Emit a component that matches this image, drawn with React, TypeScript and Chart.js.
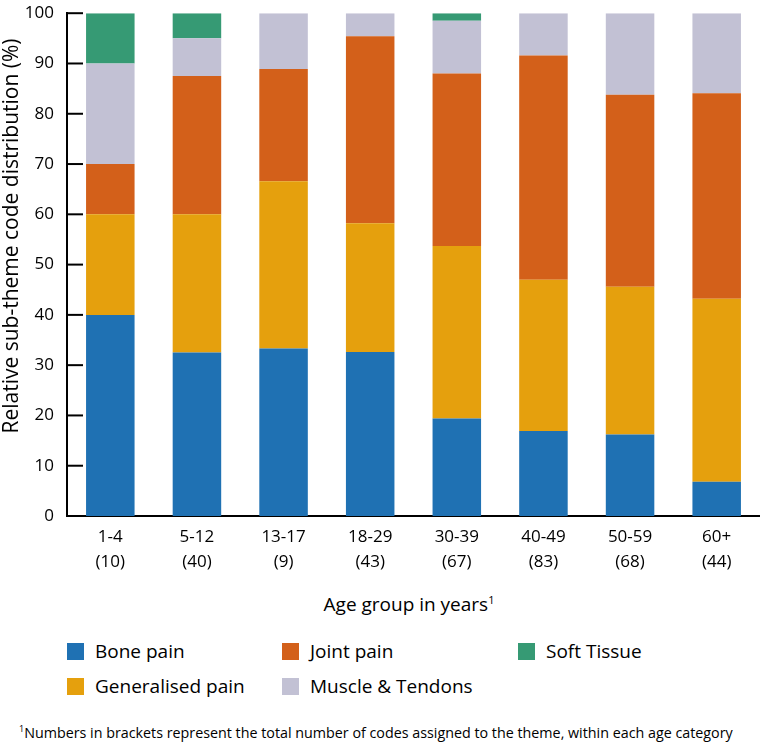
import React, { useEffect, useRef } from "react";
import { Chart, registerables } from "chart.js";
Chart.register(...registerables);

const ageGroups = ["1-4", "5-12", "13-17", "18-29", "30-39", "40-49", "50-59", "60+"];
const codeCounts = ["(10)", "(40)", "(9)", "(43)", "(67)", "(83)", "(68)", "(44)"];
const bonePain = [40, 32.5, 33.3, 32.6, 19.4, 16.9, 16.2, 6.8];
const generalisedPain = [20, 27.5, 33.3, 25.6, 34.3, 30.1, 29.4, 36.4];
const jointPain = [10, 27.5, 22.3, 37.2, 34.3, 44.6, 38.2, 40.9];
const muscleTendons = [20, 7.5, 11.1, 4.6, 10.5, 8.4, 16.2, 15.9];
const softTissue = [10, 5, 0, 0, 1.5, 0, 0, 0];
const yTicks = [0, 10, 20, 30, 40, 50, 60, 70, 80, 90, 100];
const yTitle = "Relative sub-theme code distribution (%)";

const COLORS = {
  bone: "#1f71b3",
  gen: "#e5a00d",
  joint: "#d3601a",
  muscle: "#c2c1d4",
  soft: "#369a74",
};

const FONT = "'Open Sans', sans-serif";
const SHIFT = 10;

export default function App() {
  const ref = useRef<HTMLCanvasElement>(null);
  useEffect(() => {
    document.body.style.margin = "0";
    const inwardTicks = {
      id: "inwardTicks",
      afterDatasetsDraw(chart: any) {
        const y = chart.scales.y;
        const ctx = chart.ctx;
        ctx.save();
        ctx.strokeStyle = "#000";
        ctx.lineWidth = 2;
        yTicks.forEach((v) => {
          const py = y.getPixelForValue(v);
          ctx.beginPath();
          ctx.moveTo(y.right - 1, py);
          ctx.lineTo(y.right + 16, py);
          ctx.stroke();
        });
        ctx.restore();
        // y-axis title
        ctx.save();
        ctx.translate(12, 236 + SHIFT);
        ctx.rotate(-Math.PI / 2);
        ctx.fillStyle = "#000";
        ctx.font = "21px " + FONT;
        ctx.textAlign = "center";
        ctx.textBaseline = "middle";
        ctx.fillText(yTitle, 0, 0);
        ctx.restore();
      },
    };
    const labels = ageGroups.map((g, i) => [g, codeCounts[i]]);
    const mk = (label: string, data: number[], color: string) => ({
      label,
      data,
      backgroundColor: color,
      borderWidth: 0,
      barPercentage: 0.56,
      categoryPercentage: 1,
    });
    const chart = new Chart(ref.current!, {
      type: "bar",
      data: {
        labels,
        datasets: [
          mk("Bone pain", bonePain, COLORS.bone),
          mk("Generalised pain", generalisedPain, COLORS.gen),
          mk("Joint pain", jointPain, COLORS.joint),
          mk("Muscle & Tendons", muscleTendons, COLORS.muscle),
          mk("Soft Tissue", softTissue, COLORS.soft),
        ],
      },
      options: {
        animation: false,
        responsive: false,
        maintainAspectRatio: false,
        layout: { padding: { top: 2, right: 0, left: 0, bottom: 0 } },
        plugins: { legend: { display: false }, tooltip: { enabled: false } },
        scales: {
          x: {
            stacked: true,
            grid: { display: false, drawTicks: false },
            border: { display: true, color: "#000", width: 2 },
            ticks: {
              color: "#000",
              font: { family: FONT, size: 17, lineHeight: 1.5 },
              padding: 8,
              maxRotation: 0,
              autoSkip: false,
            },
            afterFit: (s: any) => {
              s.height = 74;
            },
          },
          y: {
            stacked: true,
            min: 0,
            max: 100,
            grid: { display: false, drawTicks: false },
            border: { display: true, color: "#000", width: 2 },
            ticks: {
              stepSize: 10,
              color: "#000",
              font: { family: FONT, size: 17 },
              padding: 13,
            },
            afterFit: (s: any) => {
              s.width = 67;
            },
          },
        },
      },
      plugins: [inwardTicks],
    });
    return () => chart.destroy();
  }, []);

  const legendItem = (left: number, top: number, color: string, text: string) => (
    <div style={{ position: "absolute", left, top, height: 22, display: "flex", alignItems: "center" }}>
      <div style={{ width: 17, height: 17, background: color, marginRight: 11 }} />
      <span style={{ fontSize: 19, color: "#000", whiteSpace: "nowrap" }}>{text}</span>
    </div>
  );

  return (
    <div style={{ position: "absolute", left: 0, top: 0, width: 760, height: 743, fontFamily: FONT, background: "#fff", overflow: "hidden" }}>
      <canvas ref={ref} width={760} height={590 + SHIFT} style={{ position: "absolute", left: 0, top: -SHIFT, width: 760, height: 590 + SHIFT }} />
      <div style={{ position: "absolute", left: 59, width: 700, top: 591, textAlign: "center", fontSize: 19, color: "#000", whiteSpace: "nowrap" }}>
        Age group in years<sup style={{ fontSize: 11 }}>1</sup>
      </div>
      {legendItem(67, 640, COLORS.bone, "Bone pain")}
      {legendItem(282, 640, COLORS.joint, "Joint pain")}
      {legendItem(518, 640, COLORS.soft, "Soft Tissue")}
      {legendItem(67, 675, COLORS.gen, "Generalised pain")}
      {legendItem(282, 675, COLORS.muscle, "Muscle & Tendons")}
      <div style={{ position: "absolute", left: 19, top: 722, fontSize: 14.3, color: "#000", whiteSpace: "nowrap" }}>
        <sup style={{ fontSize: 9 }}>1</sup>Numbers in brackets represent the total number of codes assigned to the theme, within each age category
      </div>
    </div>
  );
}
